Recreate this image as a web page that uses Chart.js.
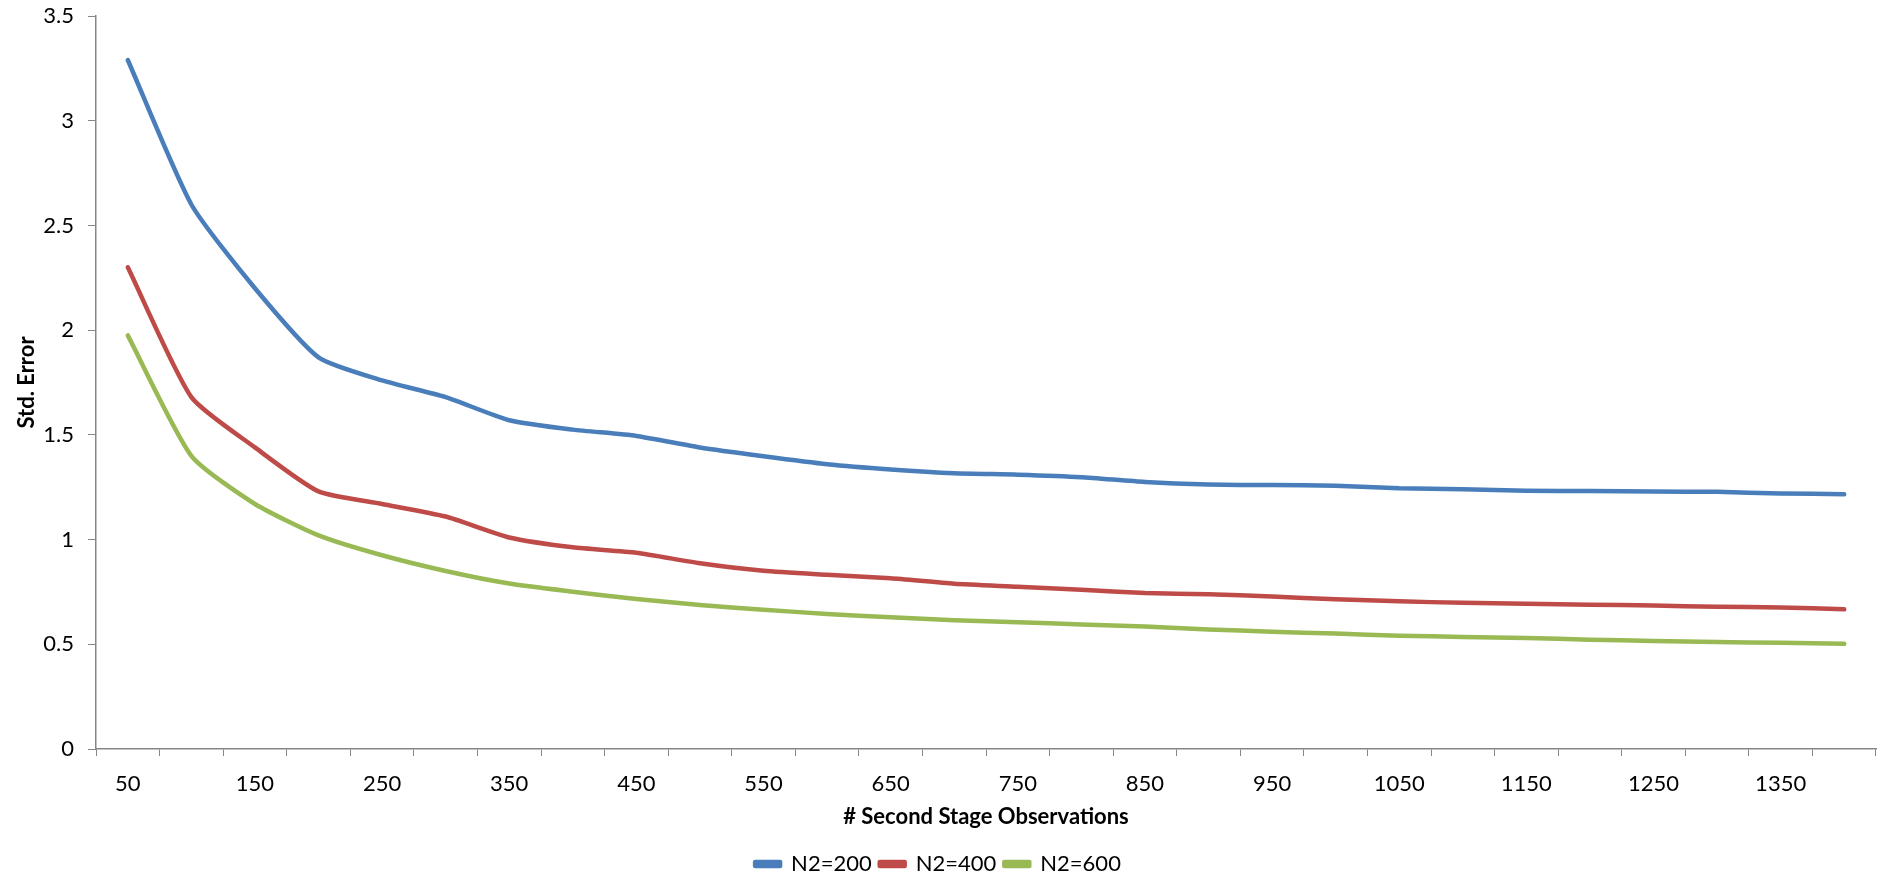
<!DOCTYPE html>
<html>
<head>
<meta charset="utf-8">
<title>Std. Error</title>
<script src="https://cdn.jsdelivr.net/npm/chart.js@4/dist/chart.umd.min.js"></script>
<style>
  body { margin: 0; background: #fff; }
  #wrap { width: 1884px; height: 879px; position: relative; }
</style>
</head>
<body>
<div id="wrap"><canvas id="grafica"></canvas></div>
<script>
// Datos
const observaciones = [50, 100, 150, 200, 250, 300, 350, 400, 450, 500, 550, 600, 650, 700,
  750, 800, 850, 900, 950, 1000, 1050, 1100, 1150, 1200, 1250, 1300, 1350, 1400];

const n2_200 = [3.29, 2.60, 2.20, 1.87, 1.76, 1.68, 1.57, 1.525, 1.495, 1.44, 1.398, 1.36, 1.335, 1.317,
  1.31, 1.298, 1.275, 1.263, 1.26, 1.257, 1.245, 1.24, 1.233, 1.232, 1.229, 1.228, 1.22, 1.217];
const n2_400 = [2.30, 1.68, 1.44, 1.23, 1.17, 1.11, 1.01, 0.963, 0.937, 0.887, 0.851, 0.832, 0.815, 0.789,
  0.775, 0.76, 0.745, 0.739, 0.728, 0.715, 0.705, 0.698, 0.693, 0.689, 0.685, 0.679, 0.676, 0.667];
const n2_600 = [1.975, 1.40, 1.17, 1.02, 0.925, 0.85, 0.79, 0.751, 0.716, 0.688, 0.665, 0.645, 0.629, 0.615,
  0.605, 0.595, 0.585, 0.571, 0.56, 0.551, 0.541, 0.535, 0.53, 0.522, 0.516, 0.511, 0.507, 0.502];

const series = ['N2=200', 'N2=400', 'N2=600'];
const colores = ['#4A7EBB', '#BE4B48', '#98B954'];

const FUENTE = 'Lato, "Liberation Sans", sans-serif';
const GRIS = '#868686';

const ctx = document.getElementById('grafica').getContext('2d');
const chart = new Chart(ctx, {
  type: 'line',
  data: {
    labels: observaciones,
    datasets: [n2_200, n2_400, n2_600].map((d, i) => ({
      label: series[i],
      data: d,
      borderColor: colores[i],
      backgroundColor: colores[i],
      borderWidth: 4.5,
      borderCapStyle: 'round',
      borderJoinStyle: 'round',
      pointRadius: 0,
      tension: 0.2,
      fill: false
    }))
  },
  options: {
    responsive: true,
    maintainAspectRatio: false,
    animation: false,
    layout: { padding: { left: 0, right: 8, top: 16, bottom: -6 } },
    plugins: {
      tooltip: { enabled: false },
      legend: {
        position: 'bottom',
        labels: {
          color: '#000',
          font: { family: FUENTE, size: 22 },
          boxWidth: 25,
          boxHeight: 4,
          padding: 8
        }
      }
    },
    scales: {
      x: {
        offset: true,
        border: { color: GRIS, width: 1.5 },
        grid: { offset: true, drawOnChartArea: false, drawTicks: true, tickLength: 7, color: GRIS },
        ticks: {
          autoSkip: false,
          maxRotation: 0,
          padding: 15,
          color: '#000',
          font: { family: FUENTE, size: 22 },
          callback: function (v, i) { return i % 2 === 0 ? this.getLabelForValue(v) : ''; }
        },
        title: {
          display: true,
          text: '# Second Stage Observations',
          color: '#000',
          font: { family: FUENTE, size: 22, weight: 'bold' },
          padding: { top: 4, bottom: 15 }
        },
        afterFit: (s) => { s.height = 96; }
      },
      y: {
        min: 0,
        max: 3.5,
        border: { color: GRIS, width: 1.5 },
        grid: { drawOnChartArea: false, drawTicks: true, tickLength: 8, color: GRIS },
        ticks: {
          stepSize: 0.5,
          padding: 14,
          color: '#000',
          font: { family: FUENTE, size: 22 },
          callback: (v) => String(v)
        },
        title: {
          display: true,
          text: 'Std. Error',
          color: '#000',
          font: { family: FUENTE, size: 22, weight: 'bold' },
          padding: { top: 14, bottom: 0 }
        },
        afterFit: (s) => {
          s.width = 96;
          s.paddingTop = 0;
          s.paddingBottom = 0;
        }
      }
    }
  }
});
</script>
</body>
</html>
